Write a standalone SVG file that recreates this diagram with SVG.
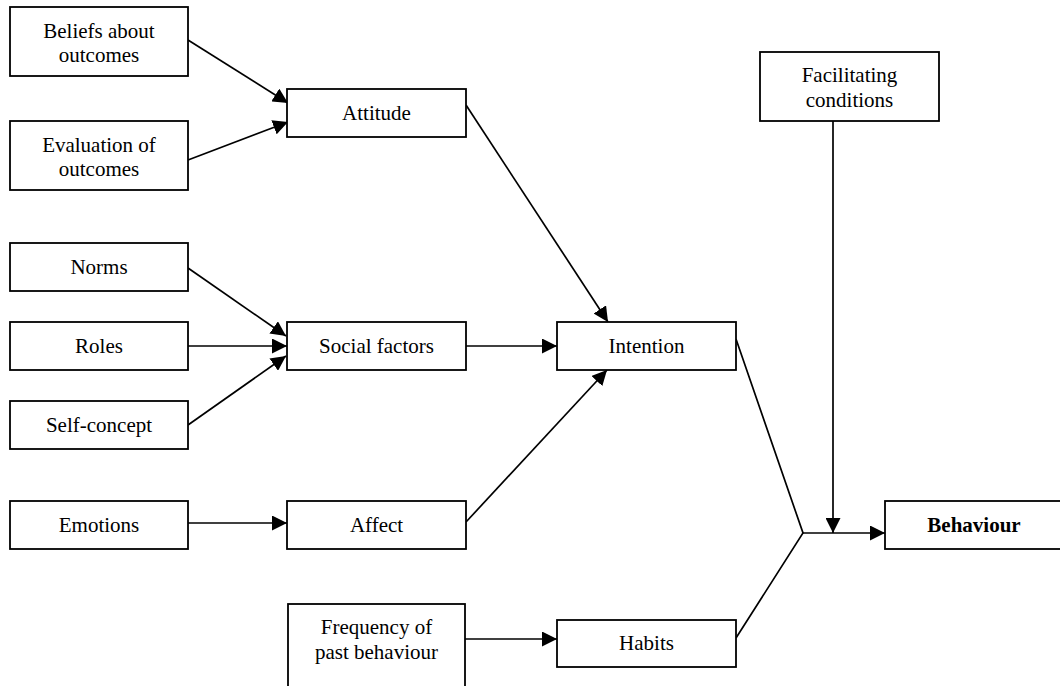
<svg xmlns="http://www.w3.org/2000/svg" width="1060" height="686" viewBox="0 0 1060 686">
<style>
rect{fill:#fff;stroke:#000;stroke-width:1.8}
text{font-family:"Liberation Serif","Times New Roman",serif;font-size:21px;fill:#000;text-anchor:middle}
.b{font-weight:bold}
#connectors line,#connectors polyline{stroke:#000;stroke-width:1.7;fill:none}
</style>
<defs>
<marker id="arr" viewBox="0 0 15 15" refX="15" refY="7.5" markerWidth="15" markerHeight="15" markerUnits="userSpaceOnUse" orient="auto">
<path d="M0,0 L15,7.5 L0,15 Z" fill="#000"/>
</marker>
</defs>
<rect width="1060" height="686" style="fill:#fff;stroke:none"/>
<g id="connectors">
<line x1="188" y1="40" x2="288" y2="103" marker-end="url(#arr)"/>
<line x1="188" y1="160" x2="288" y2="122" marker-end="url(#arr)"/>
<line x1="188" y1="268" x2="286" y2="336" marker-end="url(#arr)"/>
<line x1="188" y1="346" x2="287" y2="346" marker-end="url(#arr)"/>
<line x1="188" y1="425" x2="286" y2="356" marker-end="url(#arr)"/>
<line x1="188" y1="523" x2="287" y2="523" marker-end="url(#arr)"/>
<line x1="466" y1="346" x2="557" y2="346" marker-end="url(#arr)"/>
<line x1="466" y1="105" x2="608" y2="322" marker-end="url(#arr)"/>
<line x1="466" y1="522" x2="607" y2="370" marker-end="url(#arr)"/>
<line x1="465" y1="639" x2="557" y2="639" marker-end="url(#arr)"/>
<polyline points="736,339 803,533 736,638"/>
<line x1="803" y1="533" x2="885" y2="533" marker-end="url(#arr)"/>
<line x1="833" y1="121" x2="833" y2="533" marker-end="url(#arr)"/>
</g>
<g id="beliefs"><rect x="10" y="7" width="178" height="69"/><text x="99" y="38">Beliefs about</text><text x="99" y="62">outcomes</text></g>
<g id="evaluation"><rect x="10" y="121" width="178" height="69"/><text x="99" y="152">Evaluation of</text><text x="99" y="176">outcomes</text></g>
<g id="attitude"><rect x="287" y="89" width="179" height="48"/><text x="376.5" y="120">Attitude</text></g>
<g id="norms"><rect x="10" y="243" width="178" height="48"/><text x="99" y="274">Norms</text></g>
<g id="roles"><rect x="10" y="322" width="178" height="48"/><text x="99" y="353">Roles</text></g>
<g id="selfconcept"><rect x="10" y="401" width="178" height="48"/><text x="99" y="432">Self-concept</text></g>
<g id="social"><rect x="287" y="322" width="179" height="48"/><text x="376.5" y="353">Social factors</text></g>
<g id="intention"><rect x="557" y="322" width="179" height="48"/><text x="646.5" y="353">Intention</text></g>
<g id="emotions"><rect x="10" y="501" width="178" height="48"/><text x="99" y="532">Emotions</text></g>
<g id="affect"><rect x="287" y="501" width="179" height="48"/><text x="376.5" y="532">Affect</text></g>
<g id="facilitating"><rect x="760" y="52" width="179" height="69"/><text x="849.5" y="82">Facilitating</text><text x="849.5" y="107">conditions</text></g>
<g id="behaviour"><rect x="885" y="501" width="178" height="48"/><text class="b" x="974" y="532">Behaviour</text></g>
<g id="frequency"><rect x="288" y="604" width="177" height="100"/><text x="376.5" y="634">Frequency of</text><text x="376.5" y="659">past behaviour</text></g>
<g id="habits"><rect x="557" y="620" width="179" height="47"/><text x="646.5" y="650">Habits</text></g>
</svg>
